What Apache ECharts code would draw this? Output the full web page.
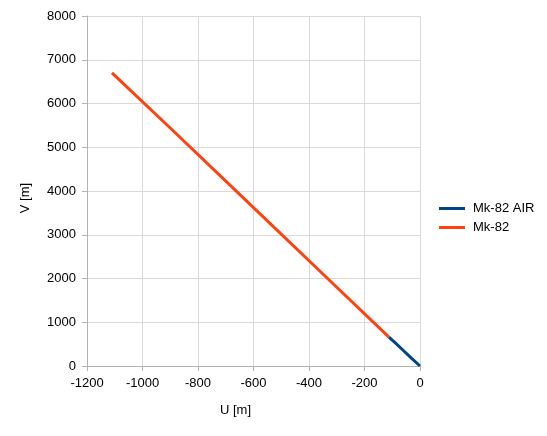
<!DOCTYPE html>
<html><head><meta charset="utf-8">
<script src="https://cdn.jsdelivr.net/npm/echarts@6/dist/echarts.min.js"></script>
<style>html,body{margin:0;padding:0;background:#fff}#c{width:547px;height:436px}</style>
</head><body><div id="c"></div>
<script>
var airU = [0, -30, -60, -90, -112];
var airV = [0, 175, 355, 535, 660];
var mkU = [-112, -300, -600, -900, -1110];
var mkV = [660, 1800, 3620, 5440, 6700];
var seriesNames = ['Mk-82 AIR', 'Mk-82'];
var xTitle = 'U [m]', yTitle = 'V [m]';

function pairs(u, v){ return u.map(function(x,i){ return [x, v[i]]; }); }
function plain(v){ return String(v); }
var font = 'Liberation Sans, Arial, sans-serif';
var chart = echarts.init(document.getElementById('c'), null, {renderer:'canvas'});
chart.setOption({
  animation:false,
  backgroundColor:'#fff',
  grid:{left:87, right:127, top:16, bottom:70},
  legend:{
    orient:'vertical', left:434, top:197, itemWidth:26, itemHeight:3, itemGap:6,
    icon:'rect',
    textStyle:{fontFamily:font, fontSize:13, color:'#000', padding:[0,0,0,3]},
    data:seriesNames
  },
  xAxis:{
    type:'value', min:-1200, max:0, interval:200,
    name:xTitle, nameLocation:'middle', nameGap:38,
    nameTextStyle:{fontFamily:font, fontSize:13, color:'#000', padding:[0,36,0,0]},
    axisLine:{show:true, onZero:false, lineStyle:{color:'#b3b3b3'}},
    axisTick:{show:true, length:5, lineStyle:{color:'#b3b3b3'}},
    axisLabel:{fontFamily:font, fontSize:13, color:'#000', margin:11, formatter:plain},
    splitLine:{show:true, lineStyle:{color:'#d9d9d9'}}
  },
  yAxis:{
    type:'value', min:0, max:8000, interval:1000,
    name:yTitle, nameLocation:'middle', nameGap:55, nameRotate:90,
    nameTextStyle:{fontFamily:font, fontSize:13, color:'#000', padding:[0,14,0,0]},
    axisLine:{show:true, onZero:false, lineStyle:{color:'#b3b3b3'}},
    axisTick:{show:true, length:5, lineStyle:{color:'#b3b3b3'}},
    axisLabel:{fontFamily:font, fontSize:13, color:'#000', margin:11, formatter:plain},
    splitLine:{show:true, lineStyle:{color:'#d9d9d9'}}
  },
  series:[
    {name:seriesNames[0], type:'line', data:pairs(airU, airV), showSymbol:false, z:3,
     lineStyle:{color:'#004586', width:3}, itemStyle:{color:'#004586'}},
    {name:seriesNames[1], type:'line', data:pairs(mkU, mkV), showSymbol:false, z:2,
     lineStyle:{color:'#ff420e', width:3}, itemStyle:{color:'#ff420e'}}
  ]
});
</script></body></html>
